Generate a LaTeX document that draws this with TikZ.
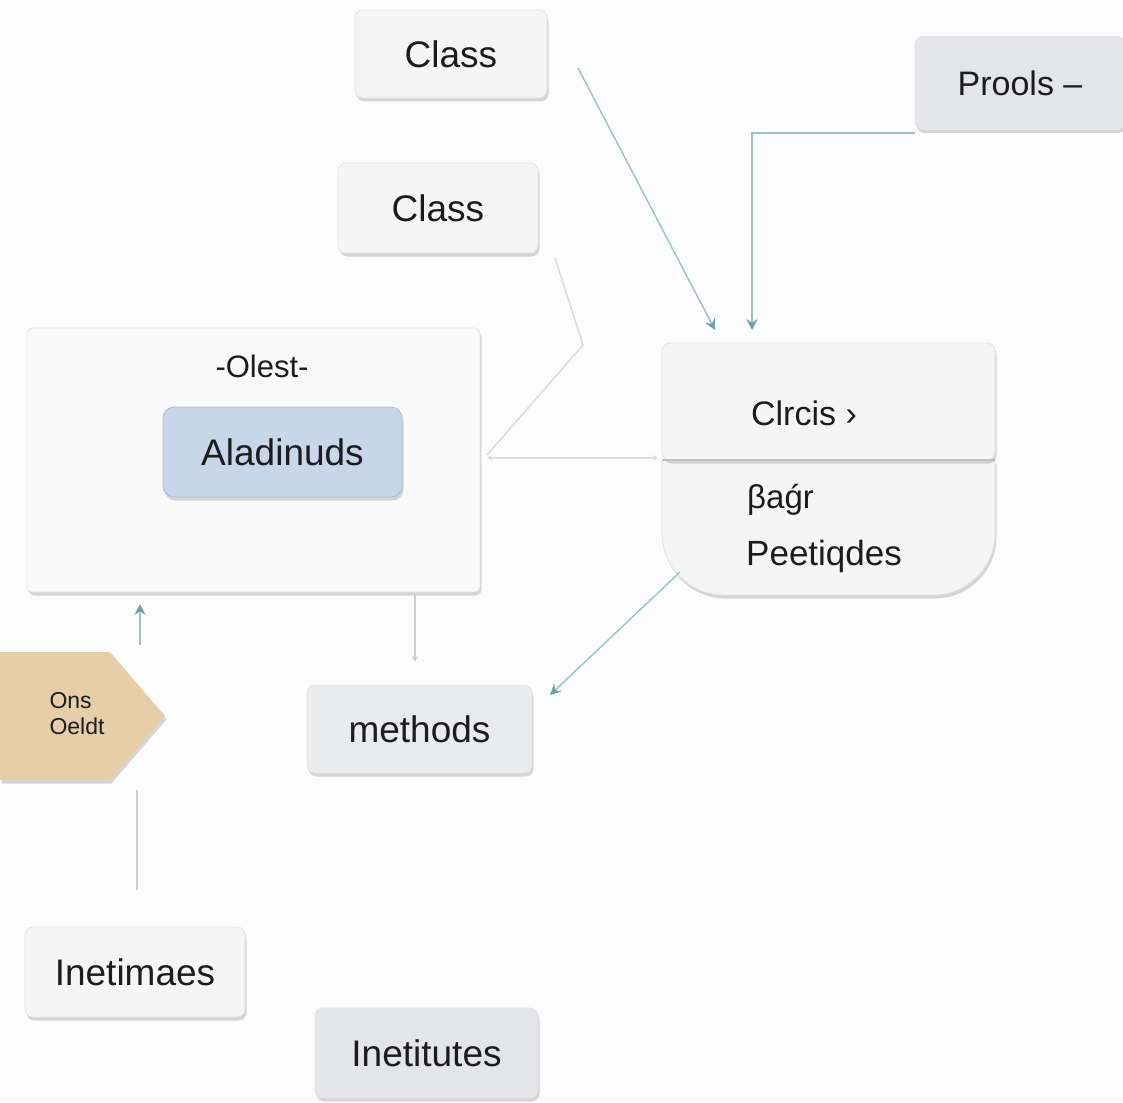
\documentclass[tikz,border=0pt]{standalone}
\usepackage{fontspec}
\setmainfont{Liberation Sans}
\usetikzlibrary{shadows,arrows.meta}
\definecolor{bg}{HTML}{FCFCFC}
\definecolor{boxfill}{HTML}{F5F5F6}
\definecolor{boxdraw}{HTML}{E3E4E6}
\definecolor{greyfill}{HTML}{E3E5E9}
\definecolor{midfill}{HTML}{EAEBED}
\definecolor{bluefill}{HTML}{C8D6EA}
\definecolor{bluedraw}{HTML}{A9BDD9}
\definecolor{tan}{HTML}{E6CEA9}
\definecolor{ink}{HTML}{1C1C1E}
\definecolor{teal}{HTML}{9FBFC5}
\definecolor{tealtip}{HTML}{6F9FA8}
\definecolor{faint}{HTML}{D9DDDF}
\definecolor{softgrey}{HTML}{C9CED1}
\begin{document}
\begin{tikzpicture}[x=1pt,y=-1pt,
  shad/.style={drop shadow={shadow xshift=1.5pt,shadow yshift=-3.5pt,opacity=0.22,fill=black!70}},
  card/.style={rectangle,rounded corners=8pt,draw=boxdraw,line width=0.8pt,fill=#1,shad,
    text=ink,inner sep=0pt},
  card/.default=boxfill,
  big/.style={font=\fontsize{37}{42}\selectfont},
  mid/.style={font=\fontsize{34}{40}\selectfont},
  txt/.style={text=ink,inner sep=0pt},
  tealline/.style={draw=teal,line width=1.4pt},
  tealarrow/.style={tealline,-{Stealth[length=11pt,width=11pt,inset=4pt,color=tealtip]}},
  faintline/.style={draw=faint,line width=1.6pt},
  greyline/.style={draw=softgrey,line width=1.4pt}
]
\useasboundingbox[fill=bg] (0,0) rectangle (1123,1102);

% top cards
\node[card,big,minimum width=192pt,minimum height=88pt] (c1) at (451,54) {Class};
\node[card,big,minimum width=200pt,minimum height=90pt] (c2) at (438,208) {Class};
\node[card=greyfill,mid,minimum width=210pt,minimum height=93pt] (prods) at (1020,83) {Prools --};

% big left container
\node[card=boxfill!60!white,rounded corners=6pt,minimum width=453pt,minimum height=264pt] (bigbox) at (253.5,460) {};
\node[txt,font=\fontsize{31}{36}\selectfont] (olest) at (262,366) {-Olest-};
\node[card=bluefill,draw=bluedraw,rounded corners=11pt,big,minimum width=239pt,minimum height=90pt] (blue) at (282.5,452) {Aladinuds};

% right class box
\coordinate (rtl) at (662,343);
\coordinate (rmr) at (995,460);
\coordinate (rml) at (662,460);
\coordinate (rbl) at (662,595);
\coordinate (rbr) at (995,595);
\path[fill=boxfill,draw=boxdraw,line width=0.8pt,shad,rounded corners=62pt] (rml) -- (rbl) -- (rbr) -- (rmr);
\path[fill=boxfill,draw=boxdraw,line width=0.8pt,shad,rounded corners=8pt] (rtl) rectangle (rmr);
\draw[draw=black!25,line width=1.2pt] (rml) -- (rmr);
\node[txt,mid] (clrcis) at (804,413) {Clrcis ›};
\node[txt,font=\fontsize{33}{38}\selectfont,anchor=west] (paagr) at (747,500) {βaǵr};
\node[txt,font=\fontsize{35}{40}\selectfont,anchor=west] (peet) at (746,556) {Peetiqdes};

% pentagon
\coordinate (p1) at (0,652);
\coordinate (p2) at (110,652);
\coordinate (p3) at (165,716);
\coordinate (p4) at (110,780);
\coordinate (p5) at (0,780);
\path[fill=tan,shad] (p1) -- (p2) -- (p3) -- (p4) -- (p5) -- cycle;
\node[txt,align=left,font=\fontsize{23}{26}\selectfont] (obj) at (77,714) {Ons\\Oeldt};

% lower cards
\node[card=midfill,big,minimum width=225pt,minimum height=88pt] (meth) at (419.5,729) {methods};
\node[card,big,minimum width=220pt,minimum height=90pt] (inem) at (135,972) {Inetimaes};
\node[card=greyfill,big,minimum width=223pt,minimum height=90pt] (inet) at (426.5,1053) {Inetitutes};

% connectors
\coordinate (a1s) at (578,68);
\coordinate (a1e) at (715,330);
\draw[tealarrow] (a1s) -- (a1e);

\coordinate (a2s) at (915,133);
\coordinate (a2e) at (752,330);
\draw[tealarrow,line width=1.8pt] (a2s) -| (a2e);

\coordinate (l3a) at (555,258);
\coordinate (l3b) at (583,345);
\coordinate (l3c) at (487,455);
\draw[faintline] (l3a) -- (l3b) -- (l3c);

\coordinate (l4a) at (487,458);
\coordinate (l4b) at (658,458);
\draw[faintline,{Stealth[length=5pt,width=6pt]}-{Stealth[length=5pt,width=6pt]}] (l4a) -- (l4b);

\coordinate (a5s) at (680,572);
\coordinate (a5e) at (550,695);
\draw[tealarrow,draw=teal!90!cyan] (a5s) -- (a5e);

\coordinate (l6a) at (415,595);
\coordinate (l6b) at (415,662);
\draw[greyline,-{Stealth[length=6pt,width=6pt,inset=2pt]}] (l6a) -- (l6b);

\coordinate (a7s) at (140,645);
\coordinate (a7e) at (140,604);
\draw[tealarrow,line width=1.2pt] (a7s) -- (a7e);

\coordinate (l8a) at (137,790);
\coordinate (l8b) at (137,890);
\draw[greyline] (l8a) -- (l8b);
\end{tikzpicture}
\end{document}
